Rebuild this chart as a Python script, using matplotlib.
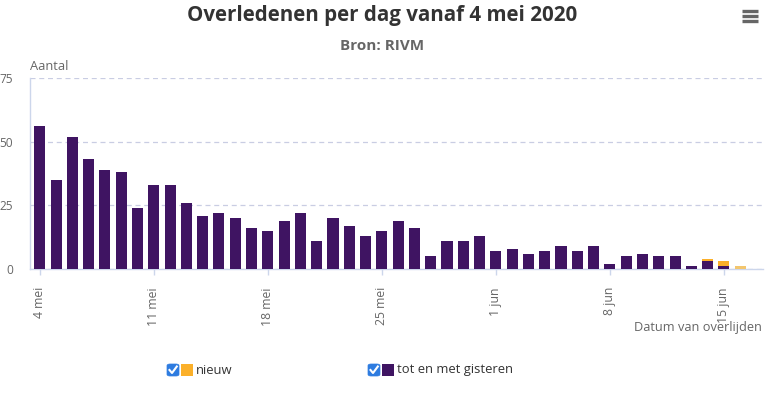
import matplotlib
matplotlib.use("Agg")
import matplotlib.pyplot as plt
from matplotlib.patches import FancyBboxPatch, Rectangle
from matplotlib.lines import Line2D

plt.rcParams['font.family'] = ['Open Sans', 'DejaVu Sans']

# ---- data ----
dates = ["4 mei", "5 mei", "6 mei", "7 mei", "8 mei", "9 mei", "10 mei",
         "11 mei", "12 mei", "13 mei", "14 mei", "15 mei", "16 mei", "17 mei",
         "18 mei", "19 mei", "20 mei", "21 mei", "22 mei", "23 mei", "24 mei",
         "25 mei", "26 mei", "27 mei", "28 mei", "29 mei", "30 mei", "31 mei",
         "1 jun", "2 jun", "3 jun", "4 jun", "5 jun", "6 jun", "7 jun",
         "8 jun", "9 jun", "10 jun", "11 jun", "12 jun", "13 jun", "14 jun",
         "15 jun", "16 jun"]
tot_en_met_gisteren = [56, 35, 52, 43, 39, 38, 24, 33, 33, 26, 21, 22, 20, 16,
                       15, 19, 22, 11, 20, 17, 13, 15, 19, 16, 5, 11, 11, 13,
                       7, 8, 6, 7, 9, 7, 9, 2, 5, 6, 5, 5, 1, 3, 1, 0]
nieuw = [0, 0, 0, 0, 0, 0, 0, 0, 0, 0, 0, 0, 0, 0,
         0, 0, 0, 0, 0, 0, 0, 0, 0, 0, 0, 0, 0, 0,
         0, 0, 0, 0, 0, 0, 0, 0, 0, 0, 0, 0, 0, 1, 2, 1]
tick_labels = ["4 mei", "11 mei", "18 mei", "25 mei", "1 jun", "8 jun", "15 jun"]
y_ticks = [0, 25, 50, 75]

PURPLE = "#3f1462"
ORANGE = "#fbb02a"
LIGHT_ORANGE = "#f3c66e"
GRID = "#c9cde3"
AXIS = "#ccd6eb"
TXT = "#666666"

W, H = 779, 399
fig = plt.figure(figsize=(W / 100, H / 100), dpi=100)
ax = fig.add_axes([30 / W, 130 / H, (763 - 30) / W, (269 - 78) / H])

x = list(range(len(dates)))
ax.bar(x, tot_en_met_gisteren, width=0.68, color=PURPLE, zorder=3)
new_colors = [LIGHT_ORANGE if (i == len(dates) - 1) else ORANGE for i in x]
ax.bar(x, nieuw, width=0.68, bottom=tot_en_met_gisteren, color=new_colors, zorder=3)

ax.set_xlim(-0.6, 44.4)
ax.set_ylim(0, 75)
ax.set_yticks(y_ticks)
ax.set_yticklabels([str(v) for v in y_ticks])
ax.yaxis.grid(True, color=GRID, linestyle=(0, (4, 3)), linewidth=0.9, zorder=0)
ax.tick_params(axis='y', length=0, pad=12, labelsize=8.6, labelcolor=TXT)
for lab in ax.get_yticklabels():
    lab.set_horizontalalignment('right')

tick_pos = [dates.index(t) for t in tick_labels]
ax.set_xticks(tick_pos)
ax.set_xticklabels(tick_labels, rotation=90, va='top', ha='center')
ax.tick_params(axis='x', length=4, width=1, color=AXIS, pad=9,
               labelsize=8.8, labelcolor=TXT)

for s in ['top', 'right']:
    ax.spines[s].set_visible(False)
ax.spines['left'].set_color(AXIS)
ax.spines['bottom'].set_color(AXIS)
ax.spines['left'].set_linewidth(1)
ax.spines['bottom'].set_linewidth(1)

# ---- texts ----
fig.text(382 / W, 1 - 16 / H, "Overledenen per dag vanaf 4 mei 2020",
         ha='center', va='center', fontsize=14.8, fontweight='bold', color='#333333')
fig.text(382 / W, 1 - 46 / H, "Bron: RIVM", ha='center', va='center',
         fontsize=11, fontweight='bold', color=TXT)
fig.text(30 / W, 1 - 66 / H, "Aantal", ha='left', va='center', fontsize=9.3, color=TXT)
fig.text(762 / W, 1 - 327 / H, "Datum van overlijden", ha='right', va='center',
         fontsize=9.2, color=TXT)

# hamburger menu
for yy in (10.5, 15.5, 20.5):
    fig.add_artist(Line2D([742 / W, 758 / W], [1 - yy / H, 1 - yy / H],
                          color=TXT, linewidth=2.4, solid_capstyle='butt'))

# ---- legend ----
def legend_item(x0, color, label):
    yc = 370
    cb = FancyBboxPatch((x0 / W, (H - yc - 6) / H), 12 / W, 12 / H,
                        boxstyle="round,pad=0,rounding_size=0.004",
                        transform=fig.transFigure, facecolor="#2e7ce0",
                        edgecolor="#2e7ce0", linewidth=0.5)
    fig.add_artist(cb)
    fig.add_artist(Line2D([(x0 + 2.5) / W, (x0 + 5) / W, (x0 + 9.8) / W],
                          [(H - yc) / H, (H - yc - 3) / H, (H - yc + 3.5) / H],
                          color='white', linewidth=1.5))
    fig.add_artist(Rectangle(((x0 + 14) / W, (H - yc - 6) / H), 12 / W, 12 / H,
                             transform=fig.transFigure, facecolor=color,
                             edgecolor='none'))
    fig.text((x0 + 29) / W, (H - yc) / H, label, ha='left', va='center',
             fontsize=9.4, color='#333333')

legend_item(167, ORANGE, "nieuw")
legend_item(368, PURPLE, "tot en met gisteren")

fig.savefig("out.png", dpi=100)
